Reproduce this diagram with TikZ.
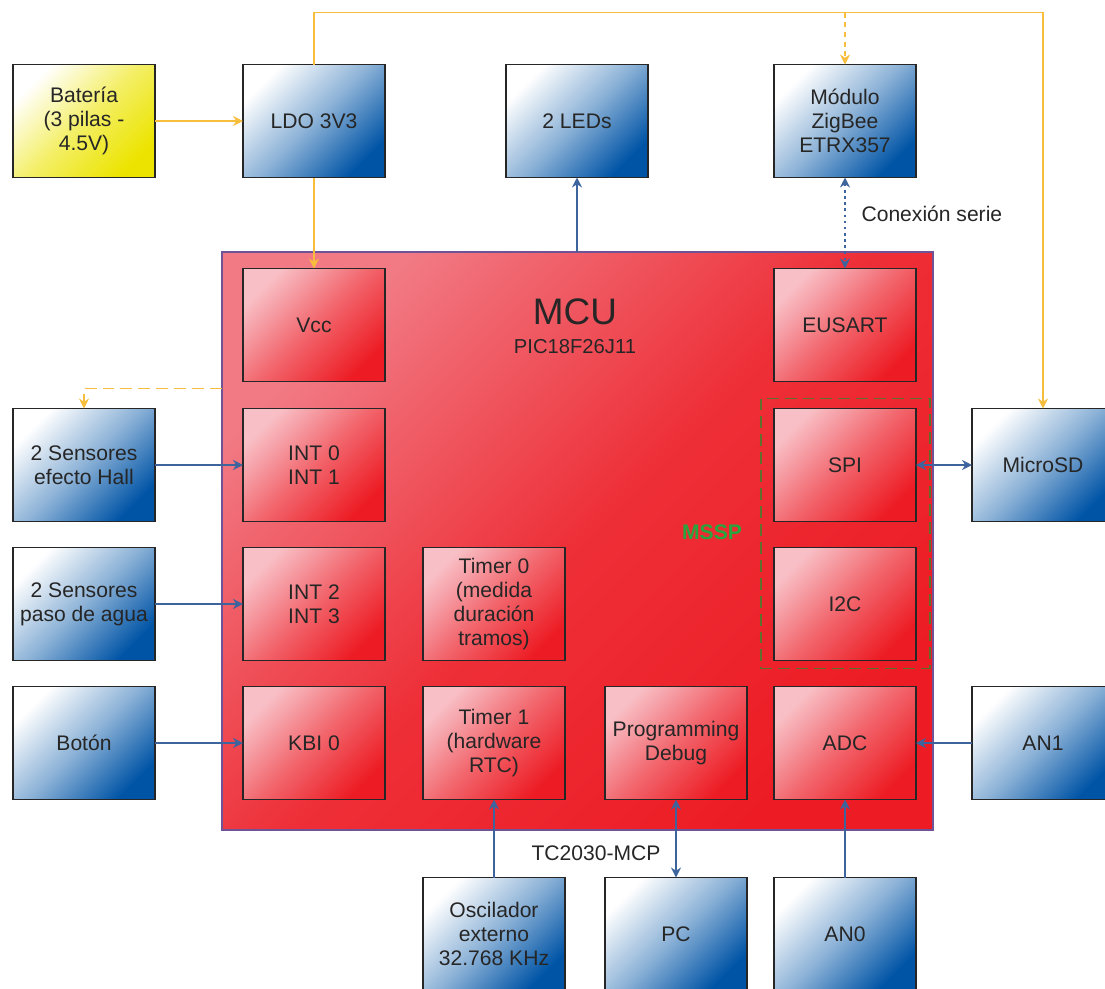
\documentclass[tikz,border=0pt]{standalone}
\usepackage{fontspec}
\setmainfont{Liberation Sans}
\usetikzlibrary{positioning,arrows.meta}

\definecolor{mblue}{RGB}{0,84,166}
\definecolor{mred}{RGB}{237,28,36}
\definecolor{mpink}{RGB}{248,192,198}
\definecolor{mcupink}{RGB}{241,122,132}
\definecolor{myellow}{RGB}{236,228,0}
\definecolor{mwire}{RGB}{62,100,158}
\definecolor{mpower}{RGB}{247,190,62}
\definecolor{mgreen}{RGB}{96,112,44}
\definecolor{mlabel}{RGB}{40,165,60}
\definecolor{mframe}{RGB}{112,82,150}

\begin{document}
\begin{tikzpicture}[
    blockB/.style={rectangle, draw=black!85, line width=0.8pt, top color=white, bottom color=mblue, middle color=mblue!45!white, shading angle=45, minimum width=2.84cm, minimum height=2.26cm, inner sep=1pt, outer sep=0pt, align=center, text=black!85, font=\fontsize{12}{13.8}\selectfont},
    blockR/.style={blockB, top color=mpink, bottom color=mred, middle color=mred!55!mpink, shading angle=45},
    blockY/.style={blockB, top color=white, bottom color=myellow, middle color=myellow!60!white, shading angle=45},
    mcubox/.style={rectangle, draw=mframe, line width=0.6pt, top color=mcupink, bottom color=mred, middle color=mred!80!mcupink, shading angle=45, minimum width=14.22cm, minimum height=11.56cm, outer sep=0pt},
    wire/.style={draw=mwire, line width=0.8pt, -{Stealth[length=2mm, width=2mm]}},
    power/.style={draw=mpower, line width=0.8pt, -{Stealth[length=2mm, width=2mm]}},
    note/.style={text=black!85, font=\fontsize{12}{13.8}\selectfont},
    ]
    \clip (0,0) rectangle (22.1,-19.76);
    %Nodes
    \node[mcubox] (mcu) at (11.55,-10.82) {};
    \node[text=black!85, font=\fontsize{21}{21}\selectfont] (mcuname) at (11.5,-6.24) {MCU};
    \node[text=black!85, font=\fontsize{11.5}{13}\selectfont] (mcupart) at (11.5,-6.94) {PIC18F26J11};

    \node[blockY] (bat) at (1.68,-2.42) {Batería\\(3 pilas -\\4.5V)};
    \node[blockB] (ldo) [right=1.76cm of bat] {LDO 3V3};
    \node[blockB] (leds) [right=2.42cm of ldo] {2 LEDs};
    \node[blockB] (zigbee) [right=2.52cm of leds] {Módulo\\ZigBee\\ETRX357};

    \node[blockR] (vcc) [below=1.82cm of ldo] {Vcc};
    \node[blockR] (int01) [below=0.54cm of vcc] {INT 0\\INT 1};
    \node[blockR] (int23) [below=0.52cm of int01] {INT 2\\INT 3};
    \node[blockR] (kbi) [below=0.52cm of int23] {KBI 0};
    \node[blockR] (timer0) [right=0.76cm of int23] {Timer 0\\(medida\\duración\\tramos)};
    \node[blockR] (timer1) [right=0.76cm of kbi] {Timer 1\\(hardware\\RTC)};
    \node[blockR] (prog) [right=0.8cm of timer1] {Programming\\Debug};
    \node[blockR] (eusart) [below=1.82cm of zigbee] {EUSART};
    \node[blockR] (spi) [below=0.54cm of eusart] {SPI};
    \node[blockR] (i2c) [below=0.52cm of spi] {I2C};
    \node[blockR] (adc) [below=0.52cm of i2c] {ADC};

    \node[blockB] (hall) [left=1.76cm of int01] {2 Sensores\\efecto Hall};
    \node[blockB] (agua) [left=1.76cm of int23] {2 Sensores\\paso de agua};
    \node[blockB] (boton) [left=1.76cm of kbi] {Botón};
    \node[blockB] (microsd) [right=1.12cm of spi] {MicroSD};
    \node[blockB] (an1) [right=1.12cm of adc] {AN1};
    \node[blockB] (osc) [below=1.56cm of timer1] {Oscilador\\externo\\32.768 KHz};
    \node[blockB] (pc) [below=1.56cm of prog] {PC};
    \node[blockB] (an0) [below=1.56cm of adc] {AN0};

    \draw[draw=mgreen, line width=1.1pt, dash pattern=on 6.8pt off 3.4pt] ([shift={(-0.26,0.2)}]spi.north west) rectangle ([shift={(0.28,-0.16)}]i2c.south east);
    \node[text=mlabel, font=\bfseries\fontsize{12}{13}\selectfont] (mssp) at (14.24,-10.64) {MSSP};

    \coordinate[above=1.04cm of ldo.north] (rail);
    \coordinate[above=0.4cm of hall.north] (halltap);

    %Lines
    \draw[power] (bat.east) to (ldo.west);
    \draw[power] (ldo.south) to (vcc.north);
    \draw[power] (ldo.north) -- (rail) -| (microsd.north);
    \draw[power, dash pattern=on 3pt off 2.5pt] (rail -| zigbee.north) to (zigbee.north);
    \draw[power, dash pattern=on 6.8pt off 3.4pt] (halltap -| mcu.west) -- (halltap) -- (hall.north);

    \draw[wire] (mcu.north -| leds.south) to (leds.south);
    \draw[wire, {Stealth[length=2mm, width=2mm]}-{Stealth[length=2mm, width=2mm]}, dash pattern=on 1.5pt off 2pt] (zigbee.south) to node[note, right, pos=0.4, xshift=0.2cm] {Conexión serie} (eusart.north);
    \draw[wire] (hall.east) to (int01.west);
    \draw[wire] (agua.east) to (int23.west);
    \draw[wire] (boton.east) to (kbi.west);
    \draw[wire, {Stealth[length=2mm, width=2mm]}-{Stealth[length=2mm, width=2mm]}] (spi.east) to (microsd.west);
    \draw[wire] (an1.west) to (adc.east);
    \draw[wire] (osc.north) to (timer1.south);
    \draw[wire, {Stealth[length=2mm, width=2mm]}-{Stealth[length=2mm, width=2mm]}] (prog.south) to node[note, left, pos=0.69, xshift=-0.18cm] {TC2030-MCP} (pc.north);
    \draw[wire] (an0.north) to (adc.south);
\end{tikzpicture}
\end{document}
